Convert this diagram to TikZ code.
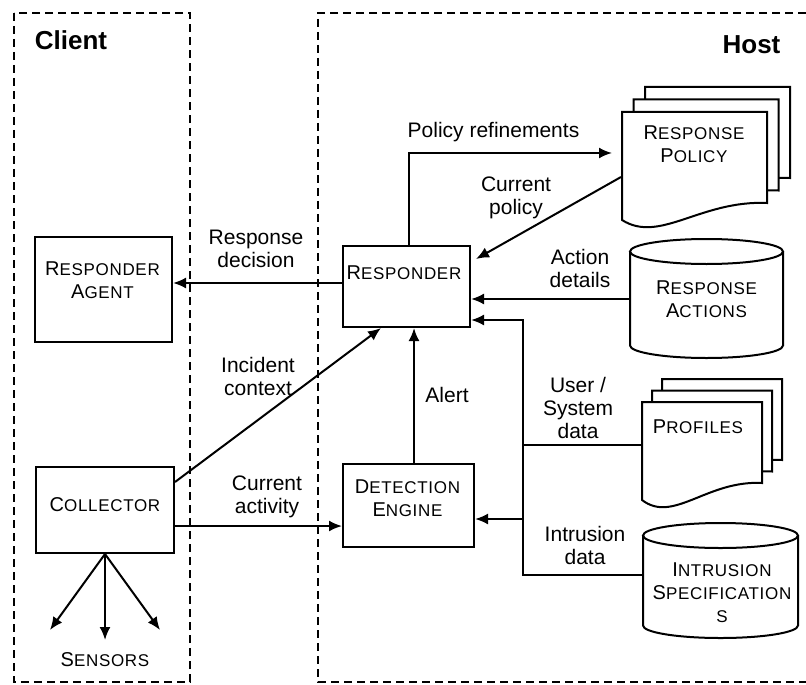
\documentclass[tikz,border=0pt]{standalone}
\usepackage{fontspec}
\setmainfont{Liberation Sans}
\usetikzlibrary{arrows.meta}

% small capitals: first letter full size, the rest smaller
\newcommand\smc[2]{#1{\fontsize{8.5}{11.5}\selectfont\addfontfeature{LetterSpace=4}#2}}
% three stacked pages: top left corner, width, height, page offset
\newcommand\pagestack[5]{%
  \foreach \k in {2,1,0}
    \filldraw[fill=white, shift={(\k*#4,\k*#5)}] #1 -- ++(#2,0) -- ++(0,#3)
      .. controls +(-0.46*#2,-3) and +(0.26*#2,24) .. ++(-#2,17) -- cycle;}
% storage drum: left, top, width, height
\newcommand\drum[4]{%
  \draw (#1+#3/2,#2+12.5) ellipse [x radius=#3/2, y radius=12.5];
  \draw (#1,#2+12.5) -- (#1,#2+#4-12.5)
    arc [start angle=180, end angle=0, x radius=#3/2, y radius=12.5] -- (#1+#3,#2+12.5);}

\begin{document}
\begin{tikzpicture}[x=0.5pt, y=-0.5pt, line width=1pt,
    flow/.style={-{Latex[length=6.5pt, width=5.5pt]}},
    zone/.style={dash pattern=on 4pt off 2.5pt},
    block/.style={draw, rectangle},
    caps/.style={align=center, font=\fontsize{10}{11.5}\selectfont},
    lbl/.style={align=center, font=\fontsize{10.5}{11.5}\selectfont}]
  \useasboundingbox (0,0) rectangle (806,684);

  % client and host
  \draw[zone] (14,13) rectangle (190,682);
  \draw[zone] (806,13) -- (318,13) -- (318,682) -- (806,682);
  \node[font=\bfseries\fontsize{13}{15}\selectfont] (client) at (71,40) {Client};
  \node[font=\bfseries\fontsize{13}{15}\selectfont] (host) at (751.5,45) {Host};

  % components
  \node[block, minimum width=68.5pt, minimum height=52.5pt] (agent) at (103.5,289.5) {};
  \node[caps] (agent-txt) at (102.5,280) {\smc{R}{ESPONDER}\\\smc{A}{GENT}};
  \node[block, minimum width=63.5pt, minimum height=40.5pt] (responder) at (406.5,286.5) {};
  \node[caps] (responder-txt) at (404,273) {\smc{R}{ESPONDER}};
  \node[block, minimum width=65.5pt, minimum height=41.5pt] (detection) at (408.5,505.5) {};
  \node[caps] (detection-txt) at (407.5,498.5) {\smc{D}{ETECTION}\\\smc{E}{NGINE}};
  \node[block, minimum width=69pt, minimum height=43pt] (collector) at (105,510) {};
  \node[caps] (collector-txt) at (105,505) {\smc{C}{OLLECTOR}};
  \node[caps] (sensors) at (105,660) {\smc{S}{ENSORS}};

  % data stores
  \pagestack{(622,112)}{145}{91}{11.5}{-12.5}
  \node[caps] (policy) at (694,144) {\smc{R}{ESPONSE}\\\smc{P}{OLICY}};
  \pagestack{(642,402)}{120}{81}{10}{-11.5}
  \node[caps] (profiles) at (698,427) {\smc{P}{ROFILES}};
  \drum{630}{239}{153}{119}
  \node[caps, minimum width=76.5pt] (actions) at (706.5,299) {\smc{R}{ESPONSE}\\\smc{A}{CTIONS}};
  \drum{643}{523}{155}{115}
  \node[caps] (spec) at (722,593) {\smc{I}{NTRUSION}\\\smc{S}{PECIFICATION}\\\smc{}{S}};

  \coordinate (policy-in) at (612,153);
  \coordinate (policy-out) at (621,177);
  \coordinate (profiles-out) at (642,445);
  \coordinate (spec-out) at (643,575);
  \coordinate (bus-top) at (523,320);
  \coordinate (bus-mid) at (523,519);
  \coordinate (sensor-l) at (50,630);
  \coordinate (sensor-c) at (105,640);
  \coordinate (sensor-r) at (160,630);

  % flows
  \draw[flow] ([yshift=1.75pt]responder.west) -- ([yshift=1.75pt]responder.west -| agent.east);
  \draw[flow] ([yshift=-8pt]collector.north east) -- ([xshift=19.5pt]responder.south west);
  \draw[flow] ([yshift=-8pt]collector.east) -- ([yshift=-8pt]collector.east -| detection.west);
  \draw[flow] ([xshift=2.75pt]detection.north) -- ([xshift=2.75pt]detection.north |- responder.south);
  \draw[flow] ([xshift=1.25pt]responder.north) |- (policy-in);
  \draw[flow] (policy-out) -- ([shift={(2.5pt,-7pt)}]responder.north east);
  \draw[flow] (actions.west) -- (actions.west -| responder.east);
  \draw (profiles-out) -- (profiles-out -| bus-top);
  \draw[flow] (spec-out) -| (bus-top) -- (bus-top -| responder.east);
  \draw[flow] (bus-mid) -- (bus-mid -| detection.east);
  \foreach \s in {l,c,r}
    \draw[flow] (collector.south) -- (sensor-\s);

  % flow labels
  \node[lbl] (decision) at (256,248.5) {Response\\decision};
  \node[lbl] (incident) at (258,376) {Incident\\context};
  \node[lbl] (activity) at (267,496.5) {Current\\activity};
  \node[lbl] (alert) at (447,395) {Alert};
  \node[lbl] (refine) at (493.5,132) {Policy refinements};
  \node[lbl] (current) at (516,197.5) {Current\\policy};
  \node[lbl] (details) at (580,268.5) {Action\\details};
  \node[lbl] (userdata) at (578,408) {User /\\System\\data};
  \node[lbl] (intrusion) at (585,545) {Intrusion\\data};
\end{tikzpicture}
\end{document}
